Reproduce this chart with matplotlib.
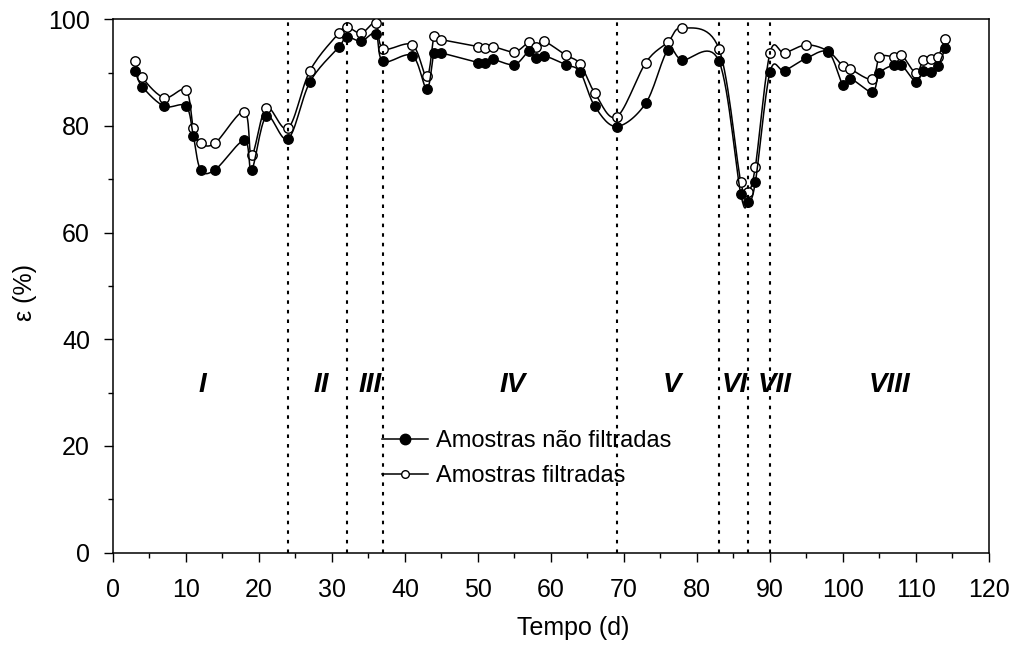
import numpy as np
import matplotlib
matplotlib.use("Agg")
import matplotlib.pyplot as plt
from matplotlib.lines import Line2D

plt.rcParams['font.family'] = ['Liberation Sans', 'DejaVu Sans']

# ---- data ----
tempo = [3, 4, 7, 10, 11, 12, 14, 18, 19, 21, 24, 27, 31, 32, 34, 36, 37, 41, 43, 44,
         45, 50, 51, 52, 55, 57, 58, 59, 62, 64, 66, 69, 73, 76, 78, 83, 86, 87, 88, 90,
         92, 95, 98, 100, 101, 104, 105, 107, 108, 110, 111, 112, 113, 114]
nao_filtradas = [90.4, 87.4, 83.7, 83.7, 78.2, 71.8, 71.8, 77.3, 71.8, 81.8,
                 77.6, 88.3, 94.9, 96.7, 95.9, 97.3, 92.1, 93.2, 87.0, 93.7,
                 93.7, 91.9, 91.9, 92.5, 91.5, 94.0, 92.7, 93.2, 91.5, 90.1,
                 83.7, 79.9, 84.3, 94.2, 92.4, 92.2, 67.2, 65.7, 69.5, 90.1,
                 90.4, 92.7, 93.8, 87.7, 88.9, 86.4, 89.9, 91.5, 91.5, 88.3,
                 90.4, 90.1, 91.2, 94.6]
filtradas = [92.2, 89.1, 85.3, 86.7, 79.7, 76.8, 76.8, 82.7, 74.5, 83.4,
             79.6, 90.4, 97.5, 98.6, 97.4, 99.3, 94.5, 95.2, 89.3, 96.8,
             96.2, 94.9, 94.6, 94.9, 93.9, 95.7, 94.8, 95.9, 93.3, 91.6,
             86.2, 81.7, 91.9, 95.7, 98.4, 94.5, 69.5, 67.7, 72.4, 93.7,
             93.7, 95.2, 94.0, 91.2, 90.7, 88.8, 92.9, 93.0, 93.4, 89.9,
             92.4, 92.5, 93.0, 96.3]
fases_limites = [24, 32, 37, 69, 83, 87, 90]
fases_nomes = ['I', 'II', 'III', 'IV', 'V', 'VI', 'VII', 'VIII']
fases_x = [12.3, 28.6, 35.2, 54.7, 76.6, 85.2, 90.7, 106.4]
fases_y = 30.1
serie_nomes = ['Amostras não filtradas', 'Amostras filtradas']


def smooth(x, y, n=16):
    """Excel-like smoothed line (Catmull-Rom as cubic Bezier) through the points."""
    P = np.column_stack([x, y]).astype(float)
    Pp = np.vstack([P[0], P, P[-1]])
    t = np.linspace(0, 1, n)[:, None]
    segs = []
    for i in range(len(P) - 1):
        p0, p1, p2, p3 = Pp[i], Pp[i + 1], Pp[i + 2], Pp[i + 3]
        c1 = p1 + (p2 - p0) / 6.0
        c2 = p2 - (p3 - p1) / 6.0
        b = ((1 - t) ** 3) * p1 + 3 * ((1 - t) ** 2) * t * c1 + 3 * (1 - t) * t ** 2 * c2 + t ** 3 * p2
        segs.append(b if i == 0 else b[1:])
    S = np.vstack(segs)
    return S[:, 0], S[:, 1]


fig = plt.figure(figsize=(10.16, 6.48), dpi=100)
ax = fig.add_axes([0.1112, 0.1472, 0.8622, 0.8230])

lw = 1.1
# filtered (open)
sx, sy = smooth(tempo, filtradas)
ax.plot(sx, sy, color='black', lw=lw, zorder=2)
ax.plot(tempo, filtradas, ls='none', marker='o', ms=6.8, mfc='white', mec='black', mew=1.0, zorder=3)
# non-filtered (filled)
sx, sy = smooth(tempo, nao_filtradas)
ax.plot(sx, sy, color='black', lw=lw, zorder=4)
ax.plot(tempo, nao_filtradas, ls='none', marker='o', ms=6.8, mfc='black', mec='black', mew=1.0, zorder=5)

for xv in fases_limites:
    ax.axvline(xv, color='black', lw=1.5, ls=(0, (1.7, 2.9)), dash_capstyle='butt', zorder=6)

for name, xv in zip(fases_nomes, fases_x):
    ax.text(xv, fases_y, name, ha='center', va='baseline', fontsize=20,
            fontweight='bold', fontstyle='italic', zorder=7)

ax.set_xlim(0, 120)
ax.set_ylim(0, 100)
ax.set_xticks(np.arange(0, 121, 10))
ax.set_xticks(np.arange(0, 121, 5), minor=True)
ax.set_yticks(np.arange(0, 101, 20))
ax.set_yticks(np.arange(0, 101, 10), minor=True)
ax.tick_params(axis='both', which='major', direction='out', length=6.5, width=1.0,
               labelsize=18, color='black')
ax.tick_params(axis='both', which='minor', direction='out', length=3.6, width=1.0, color='black')
ax.tick_params(axis='y', which='major', pad=10)
ax.tick_params(axis='x', which='major', pad=12)
for sp in ax.spines.values():
    sp.set_linewidth(1.1)
    sp.set_color('black')

ax.set_xlabel('Tempo (d)', fontsize=18)
ax.set_ylabel('ε (%)', fontsize=18)
ax.xaxis.set_label_coords(0.525, -0.119)
ax.yaxis.set_label_coords(-0.087, 0.487)

handles = [
    Line2D([], [], color='black', lw=lw, marker='o', ms=7.5, mfc='black', mec='black'),
    Line2D([], [], color='black', lw=lw, marker='o', ms=5.5, mfc='white', mec='black', mew=1.0),
]
leg = ax.legend(handles, serie_nomes, loc='center left', bbox_to_anchor=(0.307, 0.176),
                frameon=False, fontsize=17, borderpad=0, borderaxespad=0,
                handlelength=1.94, handletextpad=0.34, labelspacing=0.57)
leg.set_zorder(8)

fig.savefig('out.png', dpi=100)
